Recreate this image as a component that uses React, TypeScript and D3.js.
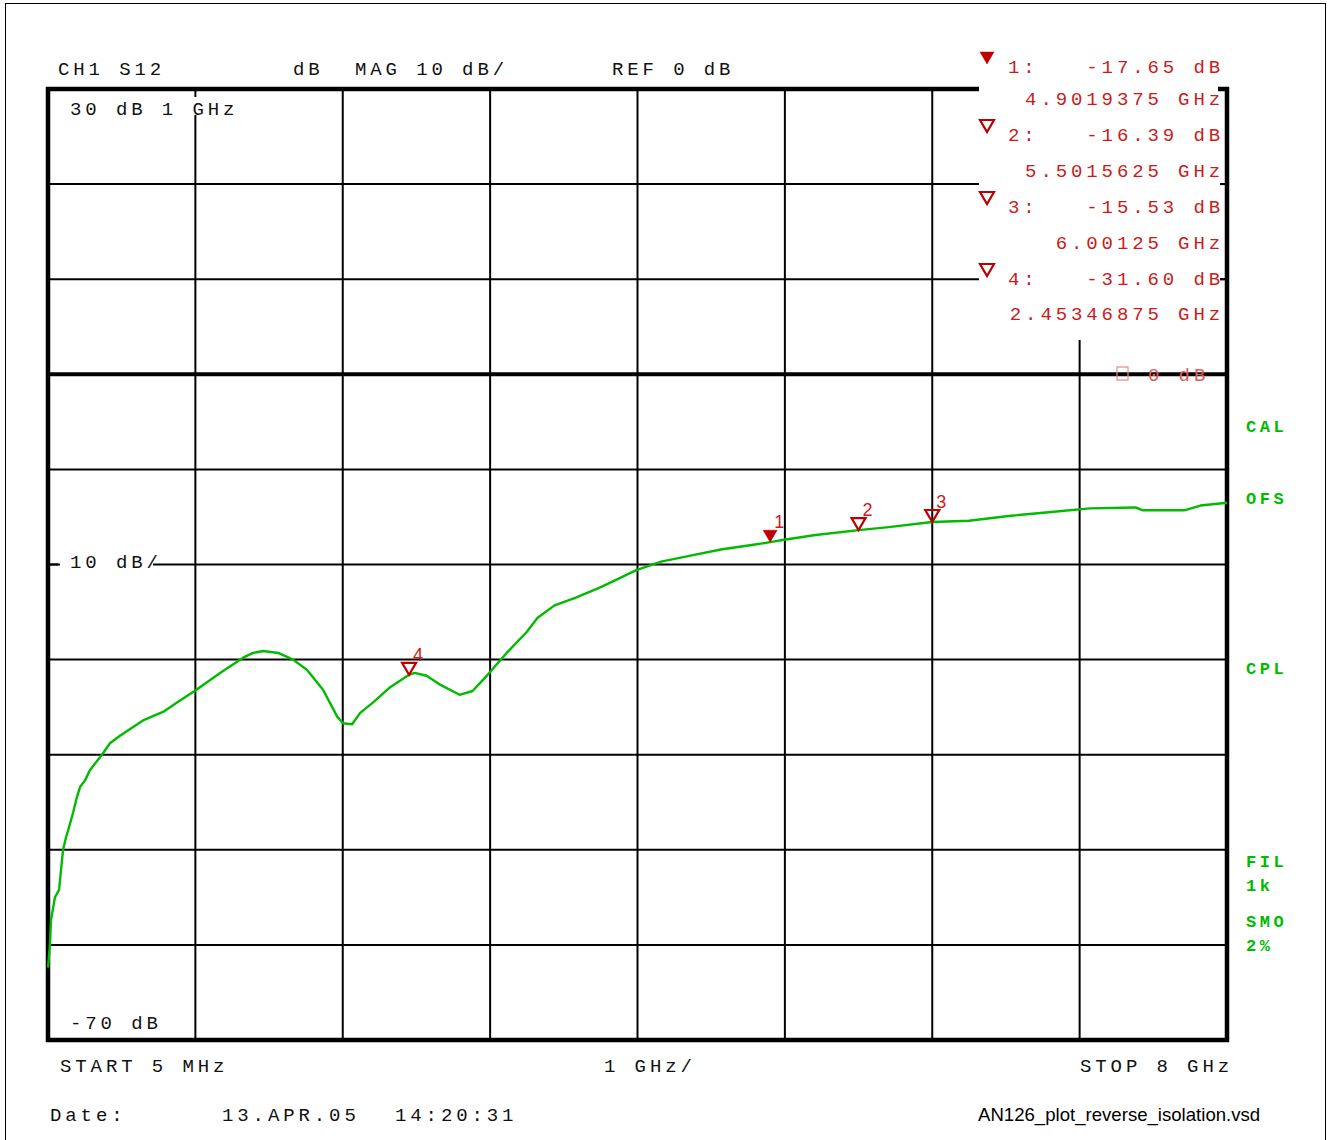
import React from 'react';
import * as d3 from 'd3';

// S12 trace
const freqGHz = [0.005, 0.019, 0.025, 0.052, 0.080, 0.107, 0.127, 0.148, 0.175, 0.202, 0.222, 0.256, 0.290, 0.371, 0.425, 0.493, 0.649, 0.785, 0.880, 1.009, 1.172, 1.328, 1.396, 1.464, 1.566, 1.667, 1.762, 1.871, 1.966, 2.006, 2.067, 2.122, 2.210, 2.325, 2.4535, 2.491, 2.572, 2.660, 2.796, 2.884, 2.986, 3.115, 3.251, 3.325, 3.44, 3.58, 3.75, 3.885, 3.994, 4.163, 4.353, 4.577, 4.80, 4.902, 4.997, 5.21, 5.5016, 5.69, 6.00125, 6.25, 6.52, 6.79, 7.07, 7.38, 7.43, 7.71, 7.82, 8.0];
const s12dB = [-62.4, -59.8, -57.4, -55.0, -54.2, -50.0, -48.7, -47.6, -46.1, -44.4, -43.4, -42.7, -41.6, -40.0, -38.8, -38.0, -36.4, -35.5, -34.5, -33.2, -31.4, -29.8, -29.3, -29.1, -29.3, -30.0, -31.1, -33.2, -36.0, -36.7, -36.8, -35.6, -34.5, -32.9, -31.6, -31.4, -31.7, -32.6, -33.7, -33.3, -31.6, -29.3, -27.1, -25.6, -24.3, -23.5, -22.4, -21.4, -20.6, -19.7, -19.1, -18.4, -17.9, -17.65, -17.4, -16.9, -16.39, -16.1, -15.53, -15.4, -14.9, -14.5, -14.1, -14.0, -14.3, -14.3, -13.8, -13.5];

// markers
const markerIds = ['1', '2', '3', '4'];
const markerFreq = [4.9019375, 5.5015625, 6.00125, 2.45346875];
const markerDb = [-17.65, -16.39, -15.53, -31.60];
const markerFreqText = ['4.9019375 GHz', '5.5015625 GHz', '6.00125 GHz', '2.45346875 GHz'];
const markerDbText = ['-17.65 dB', '-16.39 dB', '-15.53 dB', '-31.60 dB'];

const startGHz = 0.005;
const stopGHz = 8;
const topDb = 30;
const bottomDb = -70;
const divsX = 8;

const statusLabels = ['CAL', 'OFS', 'CPL', 'FIL', '1k', 'SMO', '2%'];
const statusY = [432, 504, 674, 867, 891, 927, 951];

const W = 1329;
const H = 1140;
const left = 48, right = 1227, top = 89, bottom = 1040;

const mono = {
  fontFamily: '"Liberation Mono", "DejaVu Sans Mono", monospace',
  fontSize: 19,
  letterSpacing: 3.9,
};
const pitch = 11.4 + 3.9;
const red = '#cc1a1a';
const green = '#00bb00';

// baselines of the marker list rows (value line / frequency line)
const listValueY = [73, 141, 213, 285];
const listFreqY = [105, 177, 249, 320];

export default function App() {
  const x = d3.scaleLinear().domain([startGHz, stopGHz]).range([left, right]);
  const y = d3.scaleLinear().domain([bottomDb, topDb]).range([bottom, top]);

  const xGrid = d3.range(1, divsX).map(i => startGHz + (i * (stopGHz - startGHz)) / divsX);
  const yGrid = d3.range(bottomDb + 10, topDb, 10);

  const line = d3.line<number>()
    .x((d, i) => x(freqGHz[i]))
    .y(d => y(d))
    .curve(d3.curveLinear);

  const tri = (cx: number, cy: number) =>
    `M${cx - 7},${cy - 12}L${cx + 7},${cy - 12}L${cx},${cy}Z`;

  // marker list box (covers grid at top right)
  const boxX0 = 979, boxX1 = 1220, boxY1 = 340;

  return (
    <svg width={W} height={H} style={{ position: 'absolute', left: 0, top: 0, background: '#fff' }}>
      <rect x={5.5} y={3.5} width={1320} height={1142} fill="#fff" stroke="#000" strokeWidth={1} />

      {/* grid */}
      <g stroke="#000" strokeWidth={2}>
        {xGrid.map((g, i) => (
          <line key={'vx' + i} x1={x(g)} x2={x(g)} y1={top} y2={bottom} />
        ))}
        {yGrid.map((g, i) => (
          <line key={'hy' + i} x1={left} x2={right} y1={y(g)} y2={y(g)} strokeWidth={g === 0 ? 4 : 2} />
        ))}
      </g>

      {/* white patches behind labels */}
      <rect x={boxX0} y={45} width={boxX1 - boxX0} height={boxY1 - 45} fill="#fff" />
      <rect x={60} y={97} width={186} height={18} fill="#fff" />
      <rect x={60} y={552} width={93} height={20} fill="#fff" />
      <line x1={left} x2={58} y1={y(-20)} y2={y(-20)} stroke="#000" strokeWidth={2} />

      {/* frame */}
      <g stroke="#000" strokeWidth={4.5} fill="none">
        <line x1={left} x2={left} y1={top - 2} y2={bottom + 2} />
        <line x1={left - 2} x2={boxX0} y1={top} y2={top} />
        <line x1={boxX1 - 2} x2={right + 2} y1={top} y2={top} />
        <line x1={right} x2={right} y1={top - 2} y2={bottom + 2} />
        <line x1={left - 2} x2={right + 2} y1={bottom} y2={bottom} />
      </g>
      <g stroke="#000" strokeWidth={2}>
        <line x1={boxX1} x2={right} y1={y(10)} y2={y(10)} />
        <line x1={boxX1} x2={right} y1={y(20)} y2={y(20)} />
      </g>

      {/* header */}
      <g {...mono} fill="#111">
        <text x={58} y={75}>CH1 S12</text>
        <text x={293} y={75}>dB</text>
        <text x={355} y={75}>MAG 10 dB/</text>
        <text x={612} y={75}>REF 0 dB</text>
        <text x={70} y={115}>30 dB 1 GHz</text>
        <text x={70} y={568}>10 dB/</text>
        <text x={70} y={1029}>-70 dB</text>
        <text x={60} y={1072}>START  5 MHz</text>
        <text x={604} y={1072}>1 GHz/</text>
        <text x={1080} y={1072}>STOP 8 GHz</text>
        <text x={50} y={1121}>Date:</text>
        <text x={222} y={1121}>13.APR.05</text>
        <text x={395} y={1121}>14:20:31</text>
      </g>
      <text x={978} y={1121} fontFamily='"Liberation Sans", Arial, sans-serif' fontSize={18.6} fill="#000">
        AN126_plot_reverse_isolation.vsd
      </text>

      {/* marker list */}
      <g {...mono} fill={red}>
        {markerIds.map((m, i) => {
          const by = listValueY[i];
          return (
            <g key={'ml' + m}>
              <path d={tri(987, by - 9)} fill={i === 0 ? '#c00000' : '#fff'} stroke="#c00000" strokeWidth={i === 0 ? 0.5 : 2.2} strokeLinejoin="miter" />
              <text x={1008} y={by}>{m + ':'}</text>
              <text x={1224 - markerDbText[i].length * pitch} y={by}>{markerDbText[i]}</text>
              <text x={1224 - markerFreqText[i].length * pitch} y={listFreqY[i]}>{markerFreqText[i]}</text>
            </g>
          );
        })}
        <rect x={1117} y={367} width={11} height={13} fill="none" stroke="#e58a8a" strokeWidth={1.2} />
        <text x={1148} y={381} fill="#e05a5a">0 dB</text>
      </g>

      {/* trace */}
      <path d={line(s12dB) || ''} fill="none" stroke={green} strokeWidth={2.4} strokeLinejoin="round" />

      {/* markers on trace */}
      {markerIds.map((m, i) => {
        const cx = x(markerFreq[i]);
        const cy = y(markerDb[i]);
        return (
          <g key={'mk' + m}>
            <path d={tri(cx, cy)} fill={i === 0 ? '#c00000' : 'none'} stroke="#c00000" strokeWidth={i === 0 ? 0.5 : 2.2} />
            <text x={cx + 4} y={cy - 14} fontFamily='"Liberation Sans", Arial, sans-serif' fontSize={18} fill={red}>{m}</text>
          </g>
        );
      })}

      {/* status annotations */}
      <g fontFamily='"Liberation Mono", monospace' fontWeight="bold" fontSize={17} letterSpacing={3.5} fill={green}>
        {statusLabels.map((s, i) => (
          <text key={s} x={1246} y={statusY[i]}>{s}</text>
        ))}
      </g>
    </svg>
  );
}
